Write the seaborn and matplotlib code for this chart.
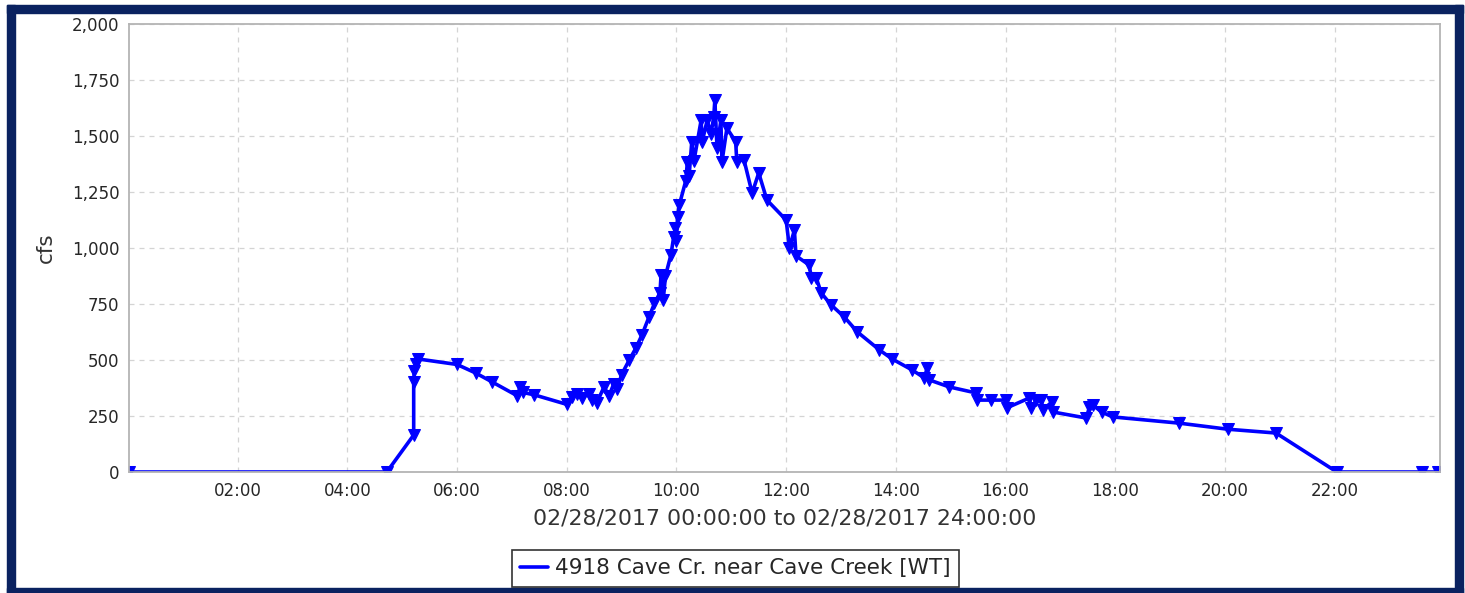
import seaborn as sns
import matplotlib.pyplot as plt
from matplotlib.patches import Rectangle
from matplotlib.ticker import FixedLocator, FuncFormatter

# discharge readings, hours after midnight 02/28/2017
hours = [0.02, 4.72, 5.21, 5.21, 5.22, 5.26, 5.28, 6.0, 6.34, 6.64,
         7.1, 7.15, 7.2, 7.4, 8.0, 8.1, 8.19, 8.28, 8.4, 8.46,
         8.55, 8.68, 8.77, 8.86, 8.92, 9.0, 9.14, 9.26, 9.37, 9.5,
         9.6, 9.7, 9.72, 9.76, 9.8, 9.9, 9.95, 9.98, 10.0, 10.02,
         10.05, 10.17, 10.2, 10.23, 10.28, 10.32, 10.45, 10.47, 10.56, 10.63,
         10.68, 10.7, 10.74, 10.81, 10.83, 10.92, 11.08, 11.1, 11.23, 11.38,
         11.5, 11.65, 12.0, 12.06, 12.15, 12.18, 12.42, 12.46, 12.55, 12.64,
         12.82, 13.06, 13.3, 13.7, 13.93, 14.3, 14.52, 14.57, 14.61, 14.97,
         15.46, 15.48, 15.74, 16.0, 16.02, 16.43, 16.47, 16.56, 16.65, 16.68,
         16.84, 16.86, 17.47, 17.53, 17.59, 17.75, 17.95, 19.17, 20.05, 20.93,
         22.04, 23.6, 23.88]
cfs = [0, 0, 165, 400, 450, 480, 505, 480, 442, 402,
       340, 380, 355, 345, 302, 335, 350, 330, 350, 320,
       310, 380, 340, 395, 370, 435, 500, 553, 611, 692,
       753, 800, 880, 770, 875, 970, 1050, 1090, 1030, 1140,
       1190, 1300, 1385, 1320, 1475, 1390, 1570, 1475, 1570, 1510,
       1585, 1660, 1445, 1570, 1385, 1535, 1475, 1385, 1395, 1245,
       1335, 1214, 1125, 1000, 1080, 965, 924, 866, 866, 799,
       746, 692, 625, 545, 505, 455, 420, 464, 411, 380,
       353, 321, 321, 321, 286, 330, 286, 321, 321, 277,
       312, 268, 241, 290, 299, 268, 246, 218, 191, 174,
       0, 0, 0]

series_name = "4918 Cave Cr. near Cave Creek [WT]"
y_ticks = [0, 250, 500, 750, 1000, 1250, 1500, 1750, 2000]
x_ticks = [2, 4, 6, 8, 10, 12, 14, 16, 18, 20, 22]

sns.set_style("white")
plt.rcParams["font.family"] = ["DejaVu Sans"]

W, H = 1465, 593
fig = plt.figure(figsize=(W / 100, H / 100), dpi=100)
ax = fig.add_axes([129 / W, 1 - 472 / H, 1311 / W, 448 / H])

sns.lineplot(x=hours, y=cfs, sort=False, estimator=None, errorbar=None,
             color="#0000ff", linewidth=2.6, marker="v", markersize=9,
             markeredgecolor="#0000ff", label=series_name, ax=ax)

ax.set_xlim(hours[0], hours[-1] + 0.04)
ax.set_ylim(0, 2000)
ax.xaxis.set_major_locator(FixedLocator(x_ticks))
ax.xaxis.set_major_formatter(FuncFormatter(lambda v, p: f"{int(v):02d}:00"))
ax.yaxis.set_major_locator(FixedLocator(y_ticks))
ax.yaxis.set_major_formatter(FuncFormatter(lambda v, p: f"{int(v):,}"))
ax.grid(True, color="#d4d4d4", linestyle=(0, (4, 4)), linewidth=0.9)
for s in ax.spines.values():
    s.set_color("#b4b4b4")
    s.set_linewidth(1.3)
ax.tick_params(axis="both", direction="out", length=4, width=1,
               color="#999999", labelsize=12, labelcolor="#262626", pad=3)

ax.set_ylabel("cfs", fontsize=15.5, color="#333333")
ax.yaxis.set_label_coords(-0.056, 0.5)
ax.set_xlabel("02/28/2017 00:00:00 to 02/28/2017 24:00:00",
              fontsize=15.8, color="#333333")
ax.xaxis.set_label_coords(0.5, -0.082)

ax.get_legend().remove()
leg = fig.legend(loc="lower center", bbox_to_anchor=(0.502, 0.01),
                 fontsize=15.5, frameon=True, fancybox=False,
                 handlelength=1.3, handletextpad=0.3, borderpad=0.4,
                 borderaxespad=0)
for h in leg.legend_handles:
    h.set_marker("")
leg.get_frame().set_edgecolor("#000000")
leg.get_frame().set_linewidth(1.2)

# navy frame around the panel (pixel boxes: x0, y0 from top, w, h)
navy = "#0a2260"
for x0, y0, w, h in [(7, 5, 1456, 8), (7, 5, 8, 588), (1455, 5, 8, 588),
                     (7, 588, 1456, 5)]:
    fig.patches.append(Rectangle((x0 / W, 1 - (y0 + h) / H), w / W, h / H,
                                 transform=fig.transFigure, color=navy,
                                 zorder=0))

fig.savefig("out.png", dpi=100)
